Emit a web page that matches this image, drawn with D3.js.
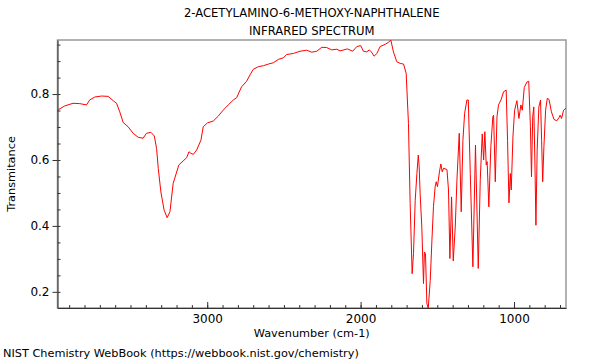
<!DOCTYPE html>
<html>
<head>
<meta charset="utf-8">
<script src="https://cdn.jsdelivr.net/npm/d3@7"></script>
<style>
body { margin: 0; background: #fff; }
text { font-family: "DejaVu Sans", sans-serif; }
</style>
</head>
<body>
<div id="chart"></div>
<script>

// spectrum (wavenumber cm-1, transmittance)
var wavenumbers = [3976, 3929, 3875, 3831, 3787, 3766, 3733, 3689, 3646, 3613, 3591, 3570, 3548, 3516, 3483,
  3450, 3418, 3396, 3367, 3345, 3330, 3319, 3302, 3281, 3261, 3243, 3222, 3185, 3157, 3134, 3119, 3106, 3091,
  3069, 3041, 3026, 2997, 2961, 2928, 2896, 2863, 2830, 2808, 2776, 2743, 2721, 2700, 2667, 2634, 2601, 2569,
  2536, 2504, 2482, 2439, 2395, 2351, 2319, 2286, 2253, 2221, 2188, 2155, 2134, 2086, 2051, 2025, 1999, 1982,
  1960, 1943, 1930, 1912, 1894, 1873, 1840, 1818, 1803, 1786, 1764, 1742, 1720, 1703, 1688, 1677, 1664, 1655,
  1644, 1633, 1624, 1618, 1612, 1601, 1590, 1584, 1577, 1568, 1559, 1546, 1535, 1525, 1514, 1507, 1499, 1486,
  1477, 1468, 1459, 1437, 1427, 1418, 1407, 1396, 1383, 1372, 1357, 1344, 1333, 1322, 1307, 1298, 1285, 1268,
  1251, 1233, 1220, 1207, 1198, 1190, 1181, 1175, 1164, 1151, 1138, 1133, 1122, 1111, 1101, 1085, 1068, 1051,
  1042, 1033, 1024, 1018, 1007, 996, 981, 968, 955, 946, 933, 915, 904, 893, 886, 878, 871, 864, 857, 849, 838,
  827, 820, 813, 805, 794, 783, 772, 756, 739, 721, 706, 699, 690, 677, 662];

var transmittance = [0.751, 0.764, 0.772, 0.771, 0.767, 0.782, 0.791, 0.794, 0.793, 0.780, 0.772, 0.746, 0.714,
  0.701, 0.681, 0.669, 0.666, 0.681, 0.684, 0.673, 0.635, 0.574, 0.503, 0.448, 0.425, 0.443, 0.529, 0.585, 0.597,
  0.607, 0.625, 0.620, 0.617, 0.630, 0.660, 0.701, 0.713, 0.718, 0.733, 0.751, 0.767, 0.782, 0.789, 0.822, 0.839,
  0.858, 0.875, 0.883, 0.886, 0.891, 0.895, 0.905, 0.910, 0.920, 0.923, 0.930, 0.933, 0.927, 0.930, 0.942, 0.941,
  0.934, 0.936, 0.931, 0.937, 0.930, 0.944, 0.947, 0.930, 0.928, 0.934, 0.928, 0.915, 0.923, 0.944, 0.951, 0.957,
  0.964, 0.928, 0.898, 0.893, 0.891, 0.863, 0.711, 0.468, 0.255, 0.317, 0.478, 0.559, 0.615, 0.579, 0.499, 0.397,
  0.225, 0.321, 0.316, 0.165, 0.150, 0.235, 0.357, 0.458, 0.519, 0.534, 0.519, 0.564, 0.588, 0.564, 0.575, 0.571,
  0.509, 0.301, 0.488, 0.294, 0.397, 0.539, 0.681, 0.443, 0.660, 0.741, 0.782, 0.782, 0.559, 0.276, 0.645, 0.271,
  0.540, 0.679, 0.600, 0.686, 0.585, 0.595, 0.458, 0.640, 0.731, 0.736, 0.534, 0.731, 0.767, 0.782, 0.807, 0.812,
  0.660, 0.470, 0.559, 0.509, 0.670, 0.751, 0.780, 0.726, 0.767, 0.751, 0.820, 0.837, 0.839, 0.701, 0.549, 0.731,
  0.761, 0.600, 0.402, 0.630, 0.761, 0.782, 0.660, 0.534, 0.640, 0.751, 0.787, 0.784, 0.746, 0.723, 0.719, 0.729,
  0.736, 0.726, 0.751, 0.757];

var xTicks = [3000, 2000, 1000];
var yTicks = [0.2, 0.4, 0.6, 0.8];
var titleLines = ["2-ACETYLAMINO-6-METHOXY-NAPHTHALENE", "INFRARED SPECTRUM"];

var margin = { top: 40, left: 57.5, right: 34, bottom: 52 },
    width = 600 - margin.left - margin.right,
    height = 360 - margin.top - margin.bottom;

var svg = d3.select("#chart")
  .append("svg")
  .attr("width", 600)
  .attr("height", 360);

var g = svg.append("g")
  .attr("transform", "translate(" + margin.left + "," + margin.top + ")");

var x = d3.scaleLinear().domain([3976, 661]).range([0, width]);
var y = d3.scaleLinear().domain([0.151, 0.964]).range([height, 0]);

// frame
g.append("rect")
  .attr("width", width)
  .attr("height", height)
  .attr("fill", "none")
  .attr("stroke", "#999")
  .attr("stroke-width", 1.5);

g.append("clipPath").attr("id", "clip")
  .append("rect").attr("width", width).attr("height", height);

// minor ticks first
var minorX = d3.range(700, 4000, 100);
g.append("g")
  .attr("transform", "translate(0," + height + ")")
  .call(d3.axisBottom(x).tickValues(minorX).tickSize(-3).tickFormat(""))
  .call(function(a) { a.select(".domain").remove(); });

var minorY = d3.range(0.2, 0.96, 0.05);
g.append("g")
  .call(d3.axisLeft(y).tickValues(minorY).tickSize(-3).tickFormat(""))
  .call(function(a) { a.select(".domain").remove(); });

var xAxis = g.append("g")
  .attr("transform", "translate(0," + height + ")")
  .call(d3.axisBottom(x).tickValues(xTicks).tickSize(-6).tickSizeOuter(0).tickPadding(6).tickFormat(d3.format("d")));

var yAxis = g.append("g")
  .call(d3.axisLeft(y).tickValues(yTicks).tickSize(5).tickSizeOuter(0).tickPadding(3).tickFormat(d3.format(".1f")));

g.selectAll(".tick line").attr("stroke", "#333");
g.selectAll(".domain").attr("stroke", "#333");
g.selectAll(".tick text").attr("font-size", 12).attr("fill", "#000");

// spectrum
var line = d3.line()
  .x(function(d, i) { return x(wavenumbers[i]); })
  .y(function(d) { return y(d); });

g.append("path")
  .datum(transmittance)
  .attr("clip-path", "url(#clip)")
  .attr("fill", "none")
  .attr("stroke", "#f00")
  .attr("stroke-width", 1)
  .attr("d", line);

// titles
svg.selectAll(".title")
  .data(titleLines)
  .enter().append("text")
  .attr("class", "title")
  .attr("x", margin.left + width / 2)
  .attr("y", function(d, i) { return 17 + i * 18; })
  .attr("text-anchor", "middle")
  .attr("font-size", 11.6)
  .text(function(d) { return d; });

svg.append("text")
  .attr("x", margin.left + width / 2)
  .attr("y", 337)
  .attr("text-anchor", "middle")
  .attr("font-size", 11.3)
  .text("Wavenumber (cm-1)");

svg.append("text")
  .attr("transform", "translate(14.5," + (margin.top + height / 2) + ") rotate(-90)")
  .attr("text-anchor", "middle")
  .attr("font-size", 11.3)
  .text("Transmitance");

svg.append("text")
  .attr("x", 3)
  .attr("y", 357)
  .attr("font-size", 11.3)
  .text("NIST Chemistry WebBook (https://webbook.nist.gov/chemistry)");

</script>
</body>
</html>
